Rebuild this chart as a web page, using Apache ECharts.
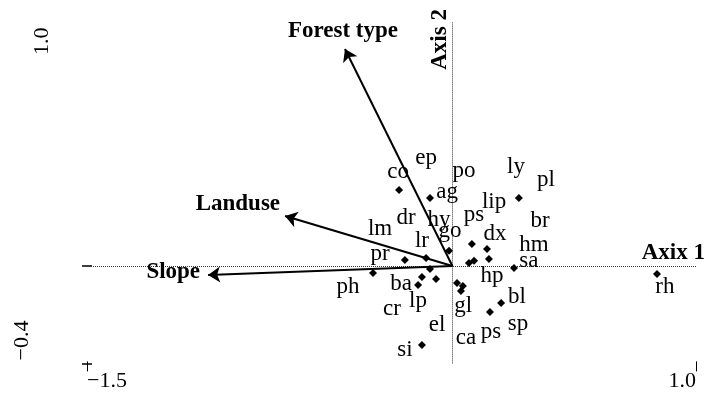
<!DOCTYPE html>
<html>
<head>
<meta charset="utf-8">
<script src="https://cdn.jsdelivr.net/npm/echarts@6/dist/echarts.min.js"></script>
<style>
  html, body { margin: 0; padding: 0; background: #fff; }
  #chart { width: 715px; height: 398px; }
</style>
</head>
<body>
<div id="chart"></div>
<script>
// Ordination axis extents and tick values
const axis1Range = [-1.5, 1.0];
const axis2Range = [-0.4, 1.0];
const axis1Ticks = [-1.5, 1.0];
const axis2Ticks = [-0.4, 0];
const axis1TickLabels = ['\u22121.5', '1.0'];
const axis2TickLabels = ['\u22120.4', '1.0'];
const axisTitles = ['Axix 1', 'Axis 2'];

// Plot scores (diamond markers)
const samplePoints = [
  [-0.219, 0.312], [-0.092, 0.279], [0.273, 0.279], [-0.014, 0.062],
  [-0.195, 0.025], [-0.108, 0.033], [-0.326, -0.029], [-0.092, -0.012],
  [0.080, 0.090], [0.142, 0.070], [0.150, 0.029], [0.068, 0.012],
  [0.089, 0.021], [0.253, -0.008], [-0.125, -0.045], [-0.067, -0.053],
  [-0.141, -0.078], [0.019, -0.070], [0.043, -0.082], [0.035, -0.103],
  [0.200, -0.152], [0.154, -0.189], [-0.125, -0.324], [0.840, -0.033]
];

// Species codes and their score positions
const speciesNames = [
  'co', 'ep', 'po', 'ly', 'pl', 'ag', 'lip', 'br', 'ps', 'dx', 'hm',
  'sa', 'hp', 'bl', 'gl', 'sp', 'ps', 'ca', 'el', 'si', 'cr', 'lp',
  'ba', 'ph', 'pr', 'lr', 'lm', 'dr', 'hy', 'go', 'rh'
];
const speciesScores = [
  [-0.223, 0.386], [-0.108, 0.443], [0.048, 0.390], [0.261, 0.406],
  [0.384, 0.353], [-0.022, 0.304], [0.171, 0.263], [0.360, 0.185],
  [0.089, 0.209], [0.175, 0.131], [0.335, 0.086], [0.314, 0.021],
  [0.163, -0.041], [0.265, -0.127], [0.044, -0.164], [0.269, -0.238],
  [0.158, -0.271], [0.056, -0.296], [-0.063, -0.242], [-0.195, -0.345],
  [-0.248, -0.177], [-0.141, -0.144], [-0.211, -0.074], [-0.429, -0.086],
  [-0.297, 0.049], [-0.125, 0.103], [-0.297, 0.152], [-0.190, 0.197],
  [-0.055, 0.189], [-0.010, 0.144], [0.872, -0.086]
];

// Environmental variable vectors (biplot arrows)
const envNames = ['Forest type', 'Landuse', 'Slope'];
const envVectors = [[-0.441, 0.891], [-0.687, 0.205], [-1.003, -0.037]];

const SERIF = '"Liberation Serif", "DejaVu Serif", serif';
const INK = '#000';

// Where each vector's name sits relative to its arrow head
const envLabelStyle = {
  'Forest type': { position: 'top', distance: 6, offset: [-2, 0] },
  'Landuse': { position: 'left', distance: 5, offset: [0, -12] },
  'Slope': { position: 'left', distance: 8, offset: [0, -3] }
};

const chart = echarts.init(document.getElementById('chart'), null, { renderer: 'canvas' });

const option = {
  animation: false,
  backgroundColor: '#fff',
  grid: { left: 87, right: 19, top: 22.4, bottom: 34.6 },
  xAxis: {
    type: 'value',
    min: axis1Range[0],
    max: axis1Range[1],
    offset: -2,
    axisLine: { show: false, onZero: false },
    splitLine: { show: false },
    axisLabel: { show: false },
    axisTick: {
      show: true,
      customValues: axis1Ticks,
      length: 10,
      lineStyle: { color: INK, width: 1 }
    }
  },
  yAxis: {
    type: 'value',
    min: axis2Range[0],
    max: axis2Range[1],
    offset: -5,
    axisLine: { show: false, onZero: false },
    splitLine: { show: false },
    axisLabel: { show: false },
    axisTick: {
      show: true,
      customValues: axis2Ticks,
      length: 10,
      lineStyle: { color: INK, width: 1.5 }
    }
  },
  series: [
    {
      name: 'plots',
      type: 'scatter',
      data: samplePoints,
      symbol: 'diamond',
      symbolSize: 8,
      itemStyle: { color: INK, opacity: 1 },
      z: 3,
      markLine: {
        silent: true,
        symbol: 'none',
        label: { show: false },
        lineStyle: { color: '#333', width: 1, type: [1, 1] },
        data: [{ yAxis: 0 }, { xAxis: 0 }],
        z: 1
      }
    },
    {
      name: 'species',
      type: 'scatter',
      symbolSize: 0,
      itemStyle: { opacity: 1 },
      data: speciesNames.map((n, i) => ({ name: n, value: speciesScores[i] })),
      label: {
        show: true,
        position: 'inside',
        formatter: '{b}',
        color: INK,
        opacity: 1,
        fontFamily: SERIF,
        fontSize: 23
      },
      z: 4
    },
    {
      name: 'vectors',
      type: 'lines',
      coordinateSystem: 'cartesian2d',
      symbol: ['none', 'arrow'],
      symbolSize: 12,
      lineStyle: { color: INK, width: 2, opacity: 1, curveness: 0 },
      data: envVectors.map(v => ({ coords: [[0, 0], v] })),
      z: 5
    },
    {
      name: 'vector names',
      type: 'scatter',
      symbolSize: 0,
      itemStyle: { opacity: 1 },
      data: envNames.map((n, i) => ({
        name: n,
        value: envVectors[i],
        label: envLabelStyle[n]
      })),
      label: {
        show: true,
        formatter: '{b}',
        color: INK,
        opacity: 1,
        fontFamily: SERIF,
        fontSize: 23,
        fontWeight: 'bold'
      },
      z: 6
    }
  ]
};

chart.setOption(option);

// Tick labels and axis titles, positioned from the grid's own scales
const toPx = (x, y) => chart.convertToPixel({ gridIndex: 0 }, [x, y]);
const tickFont = '22px ' + SERIF;
const titleFont = 'bold 23px ' + SERIF;

const pxMin = toPx(axis1Ticks[0], axis2Range[0]);
const pxMax = toPx(axis1Ticks[1], axis2Range[0]);
const pyTop = toPx(axis1Range[0], axis2Range[1]);
const pyBottom = toPx(axis1Range[0], axis2Range[0]);
const pAxis1End = toPx(axis1Range[1], 0);
const pAxis2End = toPx(0, axis2Range[1]);

chart.setOption({
  graphic: [
    { type: 'text', x: pxMin[0], y: pxMin[1] + 18,
      style: { text: axis1TickLabels[0], font: tickFont, fill: INK, align: 'left', verticalAlign: 'middle' } },
    { type: 'text', x: pxMax[0], y: pxMax[1] + 18,
      style: { text: axis1TickLabels[1], font: tickFont, fill: INK, align: 'right', verticalAlign: 'middle' } },
    { type: 'text', x: pyBottom[0] - 65, y: pyBottom[1] - 3, rotation: Math.PI / 2,
      style: { text: axis2TickLabels[0], font: tickFont, fill: INK, align: 'left', verticalAlign: 'middle' } },
    { type: 'text', x: pyTop[0] - 45, y: pyTop[1] + 5, rotation: Math.PI / 2,
      style: { text: axis2TickLabels[1], font: tickFont, fill: INK, align: 'right', verticalAlign: 'middle' } },
    { type: 'text', x: pAxis1End[0] + 9, y: pAxis1End[1] - 13,
      style: { text: axisTitles[0], font: titleFont, fill: INK, align: 'right', verticalAlign: 'middle' } },
    { type: 'text', x: pAxis2End[0] - 12, y: pAxis2End[1] + 17, rotation: Math.PI / 2,
      style: { text: axisTitles[1], font: titleFont, fill: INK, align: 'center', verticalAlign: 'middle' } }
  ]
});
</script>
</body>
</html>
